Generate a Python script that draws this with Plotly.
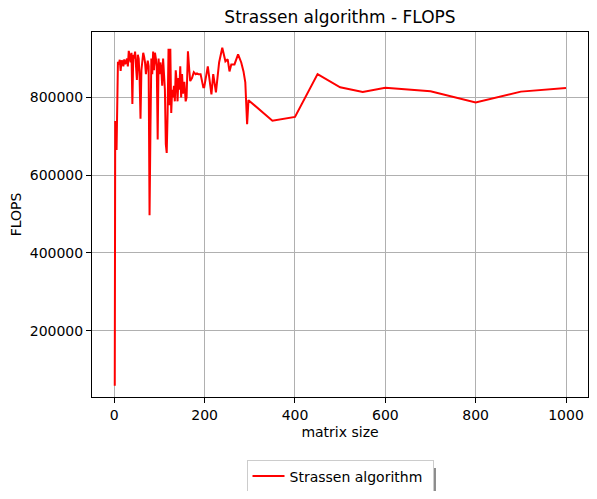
#!/usr/bin/env python3
"""
Strassen algorithm - FLOPS per matrix size
"""

import plotly.graph_objects as go

LINE_COLOUR = '#ff0000'
GRID_COLOUR = '#b0b0b0'
FONT = 'DejaVu Sans'

matrix_sizes = [
    1, 2, 4, 5, 8, 10, 12, 14, 16, 18, 20, 22, 24, 26, 28, 30, 32, 34, 36, 38,
    40, 42, 44, 46, 48, 50, 52, 54, 56, 58, 60, 62, 64, 66, 68, 70, 72, 74, 76, 78,
    80, 82, 84, 86, 88, 90, 92, 94, 96, 98, 100, 102, 104, 106, 108, 110, 112, 114, 116, 118,
    120, 122, 124, 126, 128, 130, 132, 134, 136, 138, 140, 142, 144, 146, 148, 150,
    152, 155, 158, 160, 163, 166, 168, 172, 176, 180, 183, 186, 191, 197,
    199, 207, 215, 219, 225, 232, 239, 246, 251, 255, 259, 266, 274, 281, 286, 290, 294, 297,
    350, 400, 450, 500, 550, 600, 700, 800, 900, 1000,
]
flops = [
    58000, 737000, 737000, 665000, 892000, 885000, 897000, 868000, 895000, 893000,
    880000, 898000, 886000, 890000, 900000, 880000, 920000, 905000, 890000, 915000,
    783000, 910000, 900000, 918000, 880000, 845000, 910000, 900000, 850000, 745000,
    870000, 890000, 915000, 905000, 890000, 860000, 880000, 895000, 880000, 497000,
    720000, 900000, 860000, 918000, 870000, 915000, 900000, 880000, 692000, 900000,
    860000, 890000, 875000, 830000, 900000, 870000, 820000, 680000, 657000, 760000,
    925000, 780000, 925000, 760000, 820000, 800000, 830000, 790000, 870000, 840000,
    790000, 850000, 820000, 880000, 800000, 860000,
    810000, 840000, 790000, 800000, 919000, 870000, 842000, 850000, 865000, 860000,
    862000, 860000, 860000, 826000,
    826000, 880000, 808000, 860000, 813000, 890000, 928000, 893000, 898000, 867000,
    885000, 885000, 911000, 890000, 867000, 839000, 731000, 793000,
    740000, 750000, 860000, 826000, 814000, 825000, 816000, 787000, 815000, 824000,
]
y_ticks = [200000, 400000, 600000, 800000]
x_ticks = [0, 200, 400, 600, 800, 1000]

# axis limits
X_RANGE = [-49.4, 1048.7]
Y_RANGE = [29200, 968400]

fig = go.Figure()
fig.add_trace(go.Scatter(x=matrix_sizes, y=flops, mode='lines', name='Strassen algorithm',
                         line=dict(color=LINE_COLOUR, width=2)))

axis_style = dict(showline=True, linecolor='black', linewidth=1, mirror=True,
                  showgrid=True, gridcolor=GRID_COLOUR, gridwidth=1, zeroline=False,
                  ticks='outside', ticklen=5, tickcolor='black', automargin=False,
                  tickfont=dict(family=FONT, size=14, color='black'))

# page body adds 8px, so figure is 581x483 with plot area at 92..588 x 32..397 on screen
fig.update_layout(
    width=581, height=483,
    margin=dict(l=84, r=1, t=24, b=94),
    paper_bgcolor='white', plot_bgcolor='white',
    font=dict(family=FONT, size=14, color='black'),
    title=dict(text='Strassen algorithm - FLOPS', x=0.5, xref='paper', xanchor='center',
               y=1 - 9 / 483, yref='container', yanchor='middle',
               font=dict(family=FONT, size=17, color='black')),
    xaxis=dict(range=X_RANGE, tickvals=x_ticks,
               title=dict(text='matrix size', standoff=5, font=dict(family=FONT, size=14)),
               **axis_style),
    yaxis=dict(range=Y_RANGE, tickvals=y_ticks, tickformat='d',
               title=dict(text='FLOPS', standoff=4, font=dict(family=FONT, size=14)),
               **axis_style),
    showlegend=True,
    legend=dict(x=0.5, xanchor='center', xref='paper', y=14.5 / 483, yanchor='middle', yref='container',
                orientation='h', bgcolor='white', bordercolor='#cccccc', borderwidth=1,
                itemwidth=32, entrywidth=138, font=dict(family=FONT, size=14)),
    shapes=[dict(type='rect', xref='paper', yref='paper', layer='below',
                 x0=0.3226, x1=0.6935, y0=-0.263, y1=-0.1945,
                 fillcolor='#8c8c8c', line=dict(width=0))],
)

fig.write_html('out.html')
